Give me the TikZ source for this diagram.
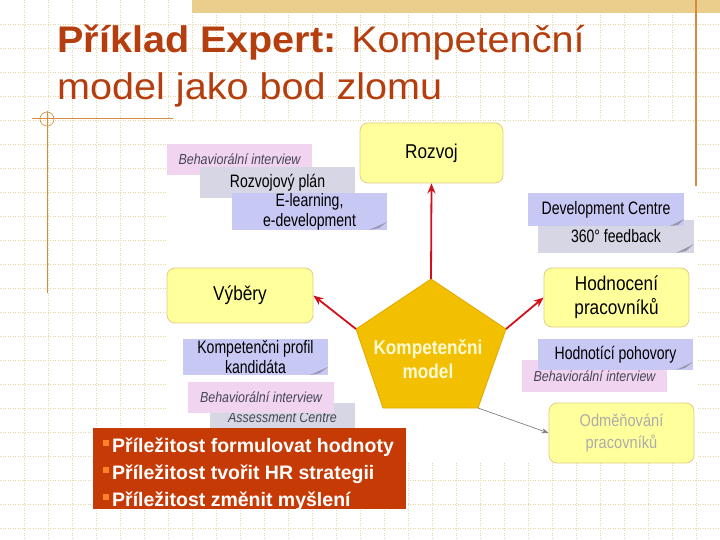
\documentclass[tikz,border=0pt]{standalone}
\usepackage{fontspec}
\setmainfont{Liberation Sans}
\newfontfamily\nar[FakeStretch=0.86]{Liberation Sans}
\newfontfamily\narr[FakeStretch=0.78]{Liberation Sans}
\newfontfamily\wid[FakeStretch=1.07]{Liberation Sans}
\usetikzlibrary{arrows.meta}
\definecolor{titlec}{RGB}{181,62,14}
\definecolor{gridc}{RGB}{232,216,168}
\definecolor{bannerc}{RGB}{236,206,140}
\definecolor{decoc}{RGB}{214,140,64}
\definecolor{yboxc}{RGB}{255,255,156}
\definecolor{yborderc}{RGB}{226,206,130}
\definecolor{pinkc}{RGB}{240,212,240}
\definecolor{lavc}{RGB}{200,200,244}
\definecolor{grayc}{RGB}{214,214,228}
\definecolor{goldc}{RGB}{242,192,0}
\definecolor{golddc}{RGB}{226,168,0}
\definecolor{arrowc}{RGB}{210,16,28}
\definecolor{redboxc}{RGB}{198,58,6}
\definecolor{bulletc}{RGB}{255,130,40}
\definecolor{curlc}{RGB}{150,150,172}
\definecolor{italc}{RGB}{70,70,84}
\definecolor{fadec}{RGB}{172,172,172}
\definecolor{creamc}{RGB}{255,250,214}
\begin{document}
\begin{tikzpicture}[x=1pt,y=-1pt,
  ybox/.style={draw=yborderc, line width=0.8pt, fill=yboxc, rounded corners=8pt,
    inner sep=0pt, align=center, text=black, font=\nar\fontsize{20}{24}\selectfont},
  lab/.style={inner sep=0pt, align=center, text=black, font=\narr\fontsize{18}{20}\selectfont},
  pinklab/.style={lab, fill=pinkc, text=italc, font=\nar\itshape\fontsize{14.5}{16}\selectfont},
  lavlab/.style={lab, fill=lavc},
  graylab/.style={lab, fill=grayc},
  redarrow/.style={draw=arrowc, line width=1.8pt, -{Stealth[length=10pt,width=8pt]}},
  grayarrow/.style={draw=gray, line width=0.7pt, -{Stealth[length=7pt,width=5pt]}},
  gridline/.style={draw=gridc, line width=0.8pt, dash pattern=on 1pt off 1.5pt},
  bline/.style={anchor=base west, inner sep=0pt, text=white,
    font=\bfseries\fontsize{19.5}{22}\selectfont},
  bullet/.style={fill=bulletc}
]
\useasboundingbox (0,0) rectangle (720,540);
\fill[white] (0,0) rectangle (720,540);
% grid
\foreach \k in {1,...,22} {\draw[gridline] (0,24*\k) -- (720,24*\k);}
\foreach \k in {1,...,29} {\draw[gridline] (24*\k,0) -- (24*\k,540);}
% top banner
\fill[bannerc] (192,0) rectangle (720,13);
% diagram background
\fill[white] (167,122) rectangle (697,463);
% decorations
\draw[decoc, line width=1.2pt] (696,0) -- (696,186);
\draw[decoc, line width=1pt] (32,119) -- (173,119);
\draw[decoc, line width=1pt] (47,111) -- (47,293);
\draw[decoc, line width=0.6pt] (47,119) circle (7);
% title
\node[anchor=base west, inner sep=0pt, text=titlec, font=\wid\fontsize{37}{44}\selectfont]
  (t1) at (57,53) {{\bfseries Příklad Expert:} Kompetenční};
\node[anchor=base west, inner sep=0pt, text=titlec, font=\wid\fontsize{37}{44}\selectfont]
  (t2) at (57,100) {model jako bod zlomu};

% main yellow boxes
\node[ybox, minimum width=143pt, minimum height=60pt] (rozvoj) at (431.5,153) {Rozvoj};
\node[ybox, minimum width=146pt, minimum height=55pt] (vybery) at (240,295.5) {Výběry};
\node[ybox, minimum width=145pt, minimum height=59pt] (hodn) at (616.5,297.5) {Hodnocení\\pracovníků};
\node[ybox, minimum width=145pt, minimum height=60pt, text=fadec,
  font=\nar\fontsize{17}{22}\selectfont] (odm) at (621.5,433) {Odměňování\\pracovníků};

% label boxes, upper left
\node[pinklab, minimum width=145pt, minimum height=31pt] (bi1) at (239.5,159.5) {Behaviorální interview};
\node[graylab, minimum width=155pt, minimum height=31pt] (rplan) at (277.5,182.5) {Rozvojový plán};
\node[lavlab, minimum width=155pt, minimum height=37pt] (elearn) at (309.5,211.5) {E-learning,\\e-development};
\fill[curlc] (387,222) -- (369,230) -- (379,228) -- cycle;
% upper right
\node[graylab, minimum width=156pt, minimum height=33pt] (fb) at (616,236.5) {360° feedback};
\fill[curlc] (694,244) -- (676,253) -- (686,251) -- cycle;
\node[lavlab, minimum width=156pt, minimum height=33pt] (devc) at (606,209.5) {Development Centre};
\fill[curlc] (684,219) -- (670,226) -- (678,225) -- cycle;
% lower left
\node[lavlab, minimum width=145pt, minimum height=36pt] (kprof) at (255.5,357) {Kompetenčni profil\\kandidáta};
\fill[curlc] (328,367) -- (310,375) -- (320,373) -- cycle;
\node[graylab, minimum width=145pt, minimum height=29pt, text=italc,
  font=\nar\itshape\fontsize{14.5}{16}\selectfont] (ac) at (282.5,417.5) {Assessment Centre};
\node[pinklab, minimum width=146pt, minimum height=31pt] (bi2) at (261,397.5) {Behaviorální interview};
% lower right
\node[pinklab, minimum width=145pt, minimum height=32pt] (bi3) at (594.5,376) {Behaviorální interview};
\node[lavlab, minimum width=155pt, minimum height=31pt] (hpoh) at (615.5,354.5) {Hodnotící pohovory};
\fill[curlc] (693,362) -- (676,370) -- (685,368) -- cycle;

% pentagon
\coordinate (ptop) at (431,279);
\coordinate (pl) at (356,329);
\coordinate (pr) at (506,329);
\coordinate (pbl) at (383,408);
\coordinate (pbr) at (478,408);
\filldraw[fill=goldc, draw=golddc, line width=0.8pt] (ptop) -- (pr) -- (pbr) -- (pbl) -- (pl) -- cycle;
\node[inner sep=0pt, align=center, text=creamc, font=\nar\bfseries\fontsize{20}{24}\selectfont]
  (pm) at (428,359) {Kompetenčni\\model};

% arrows
\draw[redarrow] (ptop) -- (rozvoj.south);
\draw[redarrow] (pl) -- (vybery.east);
\draw[redarrow] (pr) -- (hodn.west);
\draw[grayarrow] (pbr) -- (odm.west);

% red box
\fill[redboxc] (93,428) rectangle (406,509);
\begin{scope}
\clip (93,428) rectangle (406,509);
\fill[bullet] (103,440) rectangle (109,446);
\fill[bullet] (103,467) rectangle (109,473);
\fill[bullet] (103,494) rectangle (109,500);
\node[bline] (b1) at (112,452) {Příležitost formulovat hodnoty};
\node[bline] (b2) at (112,479) {Příležitost tvořit HR strategii};
\node[bline] (b3) at (112,506) {Příležitost změnit myšlení};
\end{scope}
\end{tikzpicture}
\end{document}
